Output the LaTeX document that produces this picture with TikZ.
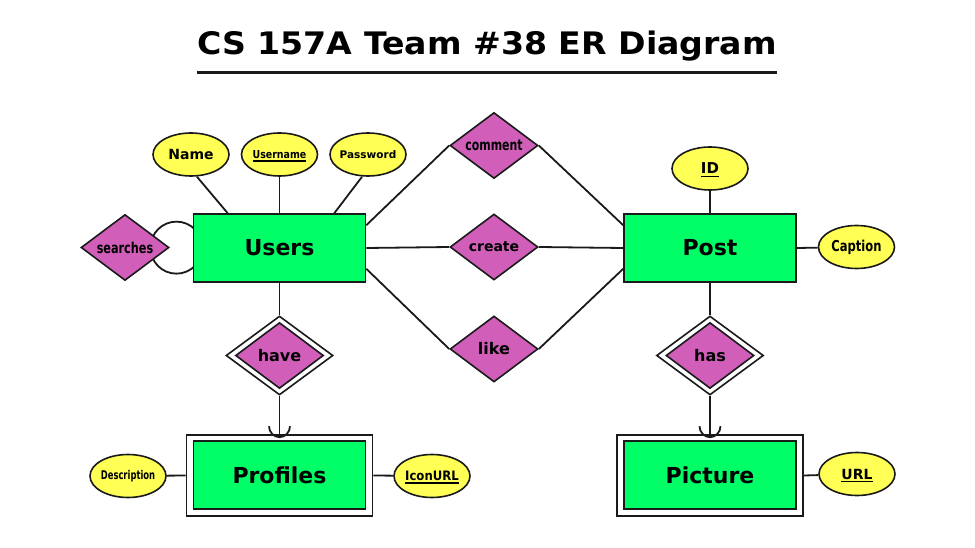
\documentclass[tikz,border=0pt]{standalone}
\usepackage{fontspec}
\setmainfont{DejaVu Sans}
\usepackage{graphicx}
\usetikzlibrary{shapes.geometric,backgrounds,calc}
\definecolor{entgreen}{HTML}{00FF66}
\definecolor{relpurple}{HTML}{D15FBA}
\definecolor{attryellow}{HTML}{FFFF55}
\definecolor{lineblack}{HTML}{1A1A1A}
\newcommand\fsz[1]{\fontsize{#1}{#1}\selectfont}
\newcommand\sq[2]{\scalebox{#1}[1]{#2}}
\newcommand\lbl[1]{\makebox[0pt]{#1}}
\newcommand\keyul[1]{\setbox0\hbox{#1}\rlap{\smash{\vrule width\wd0 height -1.8pt depth 3.2pt}}\box0}
\begin{document}
\begin{tikzpicture}[x=1pt,y=-1pt,
  entity/.style={rectangle, draw=lineblack, line width=1.6pt, fill=entgreen, minimum width=172pt, minimum height=68pt, inner sep=0pt, font=\bfseries\fsz{22}},
  weakouter/.style={rectangle, draw=lineblack, line width=1.6pt, fill=white, minimum width=186pt, minimum height=81pt, inner sep=0pt},
  attr/.style={ellipse, draw=lineblack, line width=1.6pt, fill=attryellow, minimum width=76pt, minimum height=43pt, inner sep=0pt, font=\bfseries},
  rel/.style={diamond, draw=lineblack, line width=1.6pt, fill=relpurple, minimum width=88pt, minimum height=66pt, inner sep=0pt, font=\bfseries},
  relouter/.style={diamond, draw=lineblack, line width=1.6pt, fill=white, minimum width=107pt, minimum height=79pt, inner sep=0pt},
  conn/.style={draw=lineblack, line width=1.8pt}
]
\useasboundingbox (0,0) rectangle (975,548);

% title
\node[font=\bfseries\fsz{31}, anchor=base, inner sep=0pt] (title) at (487,55) {\sq{1.07}{CS 157A Team \#38 ER Diagram}};
\draw[line width=3pt, lineblack] (197,73) -- (777,73);

% entities
\node[entity] (users) at (279.5,248) {Users};
\node[entity] (post) at (710,248) {Post};
\node[weakouter] (profout) at (279.5,475.5) {};
\node[entity] (profiles) at (279.5,475) {Profiles};
\node[weakouter] (picout) at (710,475.5) {};
\node[entity] (picture) at (710,475) {Picture};

% attributes
\node[attr] (name) at (191,154.5) {\lbl{\fsz{14}Name}};
\node[attr] (username) at (279.5,154.5) {\lbl{\fsz{11}\sq{0.86}{\keyul{Username}}}};
\node[attr] (password) at (368,154.5) {\lbl{\fsz{10.5}Password}};
\node[attr] (id) at (710,168.5) {\lbl{\fsz{15}\keyul{ID}}};
\node[attr] (caption) at (856.5,247) {\lbl{\fsz{15}\sq{0.77}{Caption}}};
\node[attr] (description) at (128,476) {\lbl{\fsz{12}\sq{0.7}{Description}}};
\node[attr] (iconurl) at (432,476) {\lbl{\fsz{13}\sq{0.9}{\keyul{IconURL}}}};
\node[attr] (url) at (857,474) {\lbl{\fsz{14}\keyul{URL}}};

% relationships
\node[rel] (searches) at (125,247.5) {\lbl{\fsz{15}\sq{0.75}{searches}}};
\node[rel] (comment) at (494,145.5) {\lbl{\fsz{15}\sq{0.73}{comment}}};
\node[rel] (create) at (494,247) {\lbl{\fsz{14}create}};
\node[rel] (like) at (494,349) {\lbl{\fsz{16}like}};
\node[relouter] (haveout) at (279.5,355.5) {};
\node[rel] (have) at (279.5,355.5) {\lbl{\fsz{16}have}};
\node[relouter] (hasout) at (710,355.5) {};
\node[rel] (has) at (710,355.5) {\lbl{\fsz{16}has}};

\coordinate (havetip) at ([yshift=-3pt]profout.north);
\coordinate (hastip) at ([yshift=-3pt]picout.north);

\begin{scope}[on background layer]
  \fill[white] (0,0) rectangle (975,548);
  % attribute links
  \draw[conn] ([xshift=6pt]name.south) -- ([xshift=35pt]users.north west);
  \draw[conn] (username) -- (users.north);
  \draw[conn] ([xshift=-6pt]password.south) -- ([xshift=-32pt]users.north east);
  \draw[conn] (id) -- (post.north);
  \draw[conn] (caption) -- (post.east);
  \draw[conn] (description) -- (profout.west);
  \draw[conn] (iconurl) -- (profout.east);
  \draw[conn] (url) -- (picout.east);
  % recursive searches
  \draw[conn] ($(searches.east)!0.29!(users.west)$) circle[radius=26pt];
  % relationship links
  \draw[conn] ([yshift=-12pt]users.north east) -- (comment.west);
  \draw[conn] (comment.east) -- ([yshift=-12pt]post.north west);
  \draw[conn] (users.east) -- (create.west);
  \draw[conn] (create.east) -- (post.west);
  \draw[conn] ([yshift=14pt]users.south east) -- (like.west);
  \draw[conn] (like.east) -- ([yshift=14pt]post.south west);
  \draw[conn] (users.south) -- (haveout.north);
  \draw[conn] (post.south) -- (hasout.north);
  \draw[conn] (haveout.south) -- (havetip);
  \draw[conn] (hasout.south) -- (hastip);
\end{scope}
% one-side arcs (cup shape above the tip)
\foreach \t in {havetip,hastip}{
  \draw[conn] ($(\t)+(-10.5,-11)$) .. controls ($(\t)+(-10.5,-5.2)$) and ($(\t)+(-5.8,0)$) .. (\t)
              .. controls ($(\t)+(5.8,0)$) and ($(\t)+(10.5,-5.2)$) .. ($(\t)+(10.5,-11)$);
}
\end{tikzpicture}
\end{document}
